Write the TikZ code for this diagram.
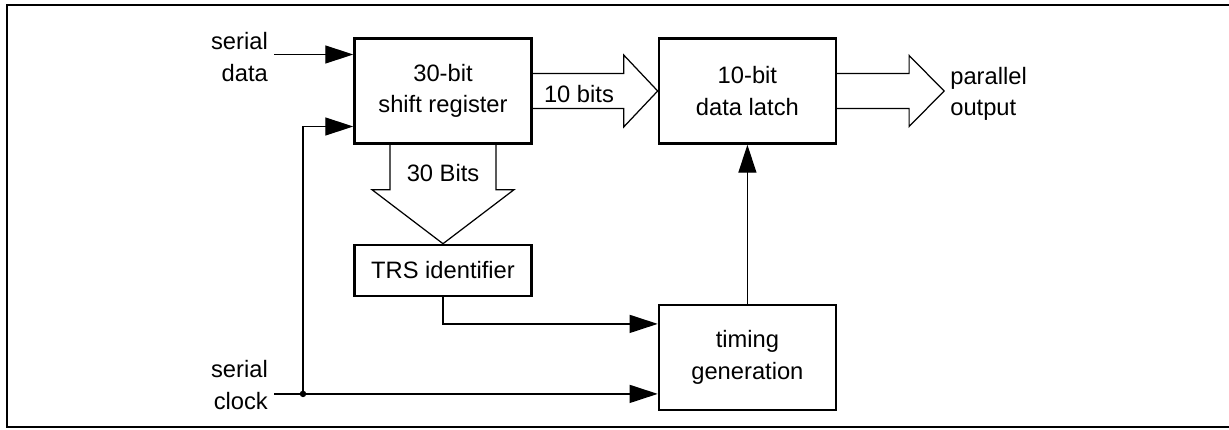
\documentclass[tikz,border=0pt]{standalone}
\usepackage{fontspec}
\setmainfont{Liberation Sans}
\usetikzlibrary{arrows.meta, positioning, calc}
\tikzset{
  block/.style={rectangle, draw=black, line width=1.4pt,
    minimum width=3.54cm, minimum height=2.1cm, align=center,
    font=\fontsize{13.5}{18}\selectfont},
  lbl/.style={font=\fontsize{13.5}{18}\selectfont},
  sigarrow/.style={-{Triangle[length=0.56cm,width=0.36cm]}, line width=0.7pt},
  bus/.style={line width=0.7pt, line join=miter},
  frame/.style={line width=1pt}
}

\begin{document}
\begin{tikzpicture}[x=0.02cm, y=-0.02cm]
  \useasboundingbox (0,0) rectangle (1229,429);
  % outer frame
  \draw[frame] (7,5) rectangle (1240,427);

  % blocks
  \node[block] (shift) at (443,91) {30-bit\\shift register};
  \node[block, right=2.5cm of shift] (latch) {10-bit\\data latch};
  \node[block, minimum height=1.02cm, below=1.98cm of shift] (trs) {TRS identifier};
  \node[block, below=3.18cm of latch] (timing) {timing\\generation};

  % inputs and output labels
  \node[lbl, align=right, anchor=east] (sdata) at (274,57) {serial\\data};
  \node[lbl, align=right, anchor=east] (sclk) at (274,385) {serial\\clock};

  % serial data and clock
  \coordinate (din) at ($(shift.west)+(0,-36.5)$);
  \coordinate (cin) at ($(shift.west)+(0,35.5)$);
  \coordinate (tin) at ($(timing.west)+(0,-33.5)$);
  \coordinate (tclk) at ($(timing.west)+(0,36.5)$);
  \coordinate (jn) at ($(sclk.east |- tclk)+(29,0)$);
  \draw[sigarrow] (sdata.east |- din) -- (din);
  \draw[sigarrow] (sclk.east |- tclk) -- (tclk);
  \draw[sigarrow] (jn) |- (cin);
  \fill (jn) circle (0.065cm);

  % TRS and timing
  \draw[sigarrow] (trs.south) |- (tin);
  \draw[sigarrow] (timing.north) -- (latch.south);

  % 10 bits bus
  \draw[bus] ($(shift.east)+(0,-17.5)$) -- ($(latch.west)+(-34,-17.5)$)
    -- ($(latch.west)+(-34,-36)$) -- (latch.west) -- ($(latch.west)+(-34,36)$)
    -- ($(latch.west)+(-34,17.5)$) -- ($(shift.east)+(0,17.5)$);
  \node[lbl] (tenbits) at ($($(shift.east)!0.37!(latch.west)$)+(0,3)$) {10 bits};

  % 30 bits bus
  \draw[bus] ($(shift.south)+(-53,0)$) -- ($(trs.north)+(-53,-54)$)
    -- ($(trs.north)+(-71,-54)$) -- (trs.north) -- ($(trs.north)+(71,-54)$)
    -- ($(trs.north)+(53,-54)$) -- ($(shift.south)+(53,0)$);
  \node[lbl] (thirtybits) at ($(shift.south)+(0,28)$) {30 Bits};

  % parallel output bus
  \coordinate (otip) at ($(latch.east)+(107,0)$);
  \draw[bus] ($(latch.east)+(0,-17.5)$) -- ($(latch.east)+(72,-17.5)$)
    -- ($(latch.east)+(72,-35.5)$) -- (otip) -- ($(latch.east)+(72,35.5)$)
    -- ($(latch.east)+(72,17.5)$) -- ($(latch.east)+(0,17.5)$);
  \node[lbl, align=left, right=0pt of otip, yshift=-0.06cm] (pout) {parallel\\output};
\end{tikzpicture}
\end{document}
